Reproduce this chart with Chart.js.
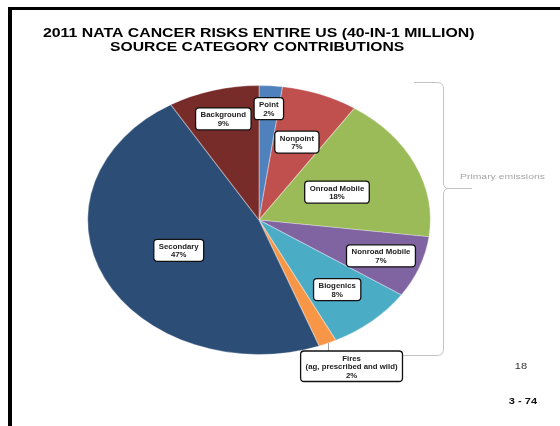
<!DOCTYPE html>
<html><head><meta charset="utf-8">
<script src="https://cdn.jsdelivr.net/npm/chart.js@4/dist/chart.umd.min.js"></script>
<style>html,body{margin:0;padding:0;background:#fff;overflow:hidden}canvas{display:block}</style>
</head><body>
<canvas id="c" width="560" height="426"></canvas>
<script>
// ---- data ----
const categories = ['Point','Nonpoint','Onroad Mobile','Nonroad Mobile','Biogenics','Fires','Secondary','Background'];
const labelLines = [['Point'],['Nonpoint'],['Onroad Mobile'],['Nonroad Mobile'],['Biogenics'],['Fires','(ag, prescribed and wild)'],['Secondary'],['Background']];
const shares = [2.2, 7.2, 17.6, 7.4, 8.2, 1.7, 47.1, 8.6];
const colors = ['#4F81BD','#C0504D','#9BBB59','#8064A2','#4BACC6','#F79646','#2C4D75','#772C2A'];
const titleLines = ['2011 NATA CANCER RISKS ENTIRE US (40-IN-1 MILLION)','SOURCE CATEGORY CONTRIBUTIONS'];
const bracketText = 'Primary emissions';
const pageNumber = '18';
const slideNumber = '3 - 74';

// ---- layout ----
const SX = 1.3;               // slide was stretched horizontally
const ELL = 172/135;          // pie ellipse ratio
const labelRadial = [0.83, 0.62, 0.50, 0.76, 0.69, 1.0, 0.52, 0.78];
const labelOffset = [[0,0],[0,0],[0,0],[0,0],[0,0],[24,23],[0,0],[0,0]];

function stxt(ctx, text, x, y, font, color, align, sx) {
  ctx.save();
  ctx.font = font; ctx.fillStyle = color; ctx.textAlign = align; ctx.textBaseline = 'alphabetic';
  ctx.translate(x, y); ctx.scale(sx, 1);
  ctx.fillText(text, 0, 0);
  ctx.restore();
}
function rrect(ctx, x, y, w, h, r) {
  ctx.beginPath();
  ctx.moveTo(x + r, y); ctx.lineTo(x + w - r, y); ctx.quadraticCurveTo(x + w, y, x + w, y + r);
  ctx.lineTo(x + w, y + h - r); ctx.quadraticCurveTo(x + w, y + h, x + w - r, y + h);
  ctx.lineTo(x + r, y + h); ctx.quadraticCurveTo(x, y + h, x, y + h - r);
  ctx.lineTo(x, y + r); ctx.quadraticCurveTo(x, y, x + r, y); ctx.closePath();
}

const ellipsePlugin = {
  id: 'ellipse',
  beforeDatasetsDraw(chart) {
    const a = chart.getDatasetMeta(0).data[0];
    const ctx = chart.ctx;
    ctx.save();
    ctx.translate(a.x, a.y); ctx.scale(ELL, 1); ctx.translate(-a.x, -a.y);
  },
  afterDatasetsDraw(chart) { chart.ctx.restore(); },
  afterDraw(chart) {
    const ctx = chart.ctx;
    const meta = chart.getDatasetMeta(0);
    const cx = meta.data[0].x, cy = meta.data[0].y;

    // slide frame
    ctx.fillStyle = '#000';
    ctx.fillRect(8, 7, 552, 3);
    ctx.fillRect(8, 7, 4, 419);

    // title
    const tf = 'bold 12px "Liberation Sans", Arial, sans-serif';
    stxt(ctx, titleLines[0], 43, 37, tf, '#000', 'left', 1.32);
    stxt(ctx, titleLines[1], 110, 51, tf, '#000', 'left', 1.31);

    // bracket
    ctx.save();
    ctx.strokeStyle = '#c4c4c4'; ctx.lineWidth = 1;
    ctx.beginPath();
    ctx.moveTo(414, 82.5); ctx.lineTo(437, 82.5);
    ctx.quadraticCurveTo(443.5, 82.5, 443.5, 89);
    ctx.lineTo(443.5, 183);
    ctx.quadraticCurveTo(443.5, 188.5, 449, 188.5);
    ctx.lineTo(472, 188.5);
    ctx.moveTo(449, 188.5);
    ctx.quadraticCurveTo(443.5, 188.5, 443.5, 194);
    ctx.lineTo(443.5, 349);
    ctx.quadraticCurveTo(443.5, 355.5, 437, 355.5);
    ctx.lineTo(330, 355.5);
    ctx.stroke();
    ctx.restore();
    stxt(ctx, bracketText, 460, 179, '8px "Liberation Sans", Arial, sans-serif', '#a6a6a6', 'left', SX);

    // slide numbers
    stxt(ctx, pageNumber, 521, 369, '8.5px "Liberation Sans", Arial, sans-serif', '#333', 'center', SX);
    stxt(ctx, slideNumber, 523, 404, 'bold 8.5px "Liberation Sans", Arial, sans-serif', '#111', 'center', SX);

    // data labels
    const lf = 'bold 6.5px "Liberation Sans", Arial, sans-serif';
    const LS = 1.2, LH = 8.5;
    meta.data.forEach((arc, i) => {
      const mid = (arc.startAngle + arc.endAngle) / 2;
      const r = arc.outerRadius * labelRadial[i];
      const ax = cx + Math.cos(mid) * r * ELL;
      const ay = cy + Math.sin(mid) * r;
      const bx = ax + labelOffset[i][0];
      const by = ay + labelOffset[i][1];
      const lines = labelLines[i].concat([Math.round(shares[i]) + '%']);
      ctx.font = lf;
      let w = 0; lines.forEach(t => { w = Math.max(w, ctx.measureText(t).width * LS); });
      const bw = w + 10, bh = lines.length * LH + 5;
      const x0 = bx - bw / 2, y0 = by - bh / 2;
      if (labelOffset[i][1] !== 0) {
        ctx.save(); ctx.strokeStyle = '#a0a0a0'; ctx.lineWidth = 1;
        ctx.beginPath(); ctx.moveTo(Math.round(ax) + 0.5, ay); ctx.lineTo(Math.round(ax) + 0.5, y0); ctx.stroke(); ctx.restore();
      }
      ctx.save();
      rrect(ctx, x0, y0, bw, bh, 3.5);
      ctx.fillStyle = '#fff'; ctx.fill();
      ctx.lineWidth = 1.3; ctx.strokeStyle = '#111'; ctx.stroke();
      ctx.restore();
      lines.forEach((t, k) => {
        stxt(ctx, t, bx, y0 + 2.5 + LH * (k + 1) - 1.5, lf, '#222', 'center', LS);
      });
    });
  }
};

new Chart(document.getElementById('c'), {
  type: 'pie',
  data: {
    labels: categories,
    datasets: [{
      data: shares,
      backgroundColor: colors,
      borderColor: 'rgba(255,255,255,0.3)',
      borderWidth: 1
    }]
  },
  options: {
    responsive: false,
    animation: false,
    devicePixelRatio: 1,
    rotation: 0,
    layout: { padding: { top: 84, bottom: 70, left: 124, right: 166 } },
    plugins: { legend: { display: false }, tooltip: { enabled: false }, title: { display: false } }
  },
  plugins: [ellipsePlugin]
});
</script>
</body></html>
